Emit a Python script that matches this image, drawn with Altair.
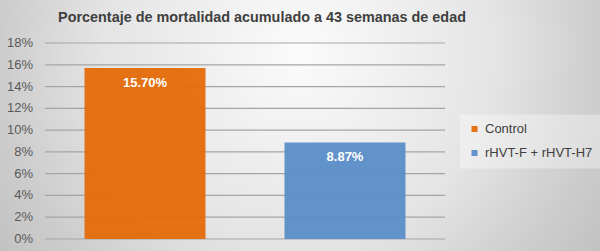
import altair as alt
import pandas as pd

title_text = ["Porcentaje de mortalidad acumulado a 43 semanas de edad"]
categories = ["Control", "rHVT-F + rHVT-H7"]
values = [0.157, 0.0887]
colors = ["#E46C0A", "#5B8DC8"]
y_ticks = [0, 0.02, 0.04, 0.06, 0.08, 0.10, 0.12, 0.14, 0.16, 0.18]

df = pd.DataFrame({"grupo": categories, "valor": values})
grid_df = pd.DataFrame({"t": y_ticks})
bg_df = pd.DataFrame({"a": [0]})
title_df = pd.DataFrame({"txt": title_text})

yscale = alt.Scale(domain=[0, 0.18], nice=False)
xscale = alt.Scale(domain=categories, paddingInner=0.395, paddingOuter=0.1975)

bg = alt.Chart(bg_df).mark_rect(
    color=alt.Gradient(
        gradient="radial",
        x1=0.5, y1=0.25, r1=0.0,
        x2=0.5, y2=0.25, r2=0.6,
        stops=[alt.GradientStop(color="#fbfbfb", offset=0),
               alt.GradientStop(color="#e4e4e4", offset=0.55),
               alt.GradientStop(color="#cdcdcd", offset=0.83),
               alt.GradientStop(color="#c2c2c2", offset=1)],
    )
).encode(
    x=alt.value(-45), x2=alt.value(555), y=alt.value(-143), y2=alt.value(457)
)

title = alt.Chart(title_df).mark_text(
    fontSize=14.4, fontWeight="bold", font="Liberation Sans",
    color="#404040", baseline="alphabetic", align="center"
).encode(text="txt:N", x=alt.value(217), y=alt.value(-21))

grid = alt.Chart(grid_df).mark_rule(color="#a5a5a5", strokeWidth=1.2).encode(
    y=alt.Y("t:Q", scale=yscale, axis=None),
    x=alt.value(0), x2=alt.value(400)
)

ylabels = alt.Chart(grid_df).mark_text(
    fontSize=13, font="Liberation Sans", color="#595959",
    align="right", baseline="middle"
).encode(
    y=alt.Y("t:Q", scale=yscale, axis=None),
    x=alt.value(-12),
    text=alt.Text("t:Q", format=".0%"),
)

bars = alt.Chart(df).mark_bar(opacity=0.95).encode(
    x=alt.X("grupo:N", scale=xscale, axis=None, sort=categories),
    y=alt.Y("valor:Q", scale=yscale, axis=None),
    color=alt.Color("grupo:N", sort=categories,
                    scale=alt.Scale(domain=categories, range=colors),
                    legend=alt.Legend(
                        title=None, orient="none", legendX=415, legendY=71.5,
                        symbolType="square", symbolSize=36, symbolStrokeWidth=0,
                        labelFontSize=13, labelColor="#404040",
                        labelFont="Liberation Sans", rowPadding=10, padding=8,
                        labelOffset=4, fillColor="rgba(255,255,255,0.35)",
                        zindex=2)),
)

labels = alt.Chart(df).mark_text(
    color="white", fontWeight="bold", fontSize=13, font="Liberation Sans",
    baseline="middle", dy=15
).encode(
    x=alt.X("grupo:N", scale=xscale, sort=categories, axis=None),
    y=alt.Y("valor:Q", scale=yscale, axis=None),
    text=alt.Text("valor:Q", format=".2%"),
)

chart = alt.layer(bg, title, grid, ylabels, bars, labels).properties(
    width=400, height=196,
    autosize=alt.AutoSizeParams(type="none"),
    padding={"left": 45, "top": 43, "right": 155, "bottom": 12},
).configure_view(stroke=None)

chart.save("out.html", embed_options={"renderer": "svg", "actions": False})
